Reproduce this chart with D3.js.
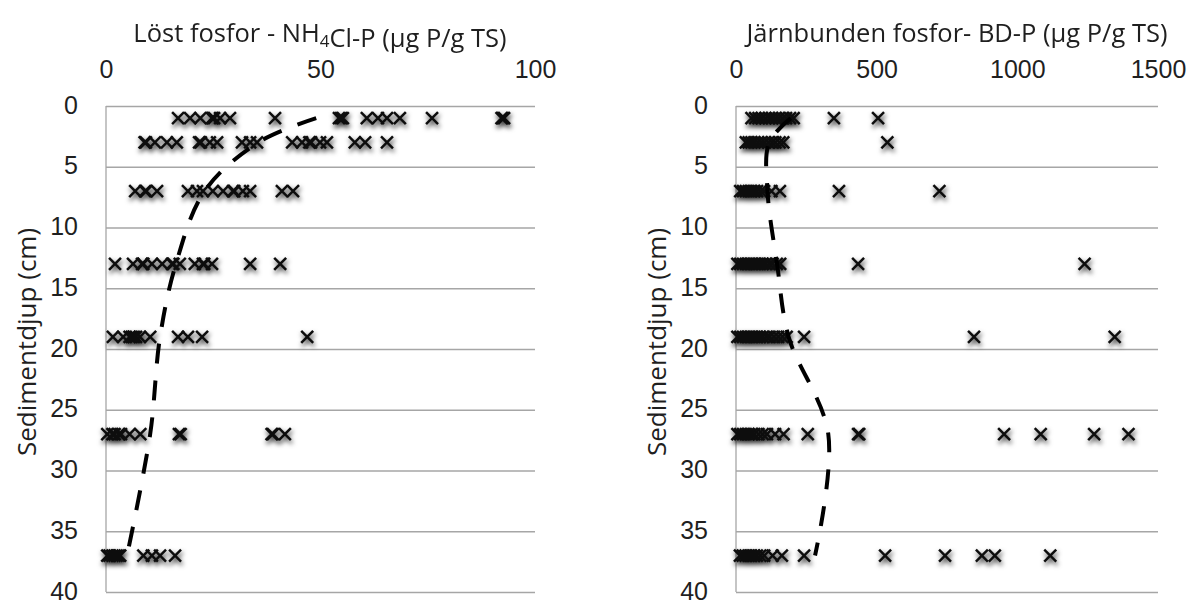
<!DOCTYPE html>
<html>
<head>
<meta charset="utf-8">
<script src="https://cdn.jsdelivr.net/npm/d3@7"></script>
<style>
  body { margin: 0; background: #fff; }
  svg { display: block; font-family: "Open Sans", sans-serif; }
  .grid line { stroke: #a6a6a6; stroke-width: 1.3; }
  .grid .domain { display: none; }
  .tick text { fill: #1f1f1f; font-size: 25px; }
  .xaxis .domain { display: none; }
  .title { fill: #1f1f1f; font-size: 25.5px; }
  .ytitle { fill: #1f1f1f; font-size: 26px; }
</style>
</head>
<body>
<div id="chart"></div>
<script>
  // depth of each sampling row (cm)
  const depths = [1, 3, 7, 13, 19, 27, 37];
  const depthTicks = [0, 5, 10, 15, 20, 25, 30, 35, 40];

  // Löst fosfor NH4Cl-P, one list per depth row
  const nh4clP = [
    [16.8, 19.6, 22, 24.7, 24.9, 25.2, 26.6, 28.9, 39.4, 54.3, 54.8, 55.2, 60.8, 63.4, 65.5, 68.5, 76, 92.2, 92.5, 92.8],
    [9, 9.3, 11.4, 14.2, 16.5, 21.7, 22.1, 24.2, 25.9, 31.7, 33.6, 35.2, 43.4, 45.7, 47.4, 47.8, 49.9, 51.5, 58, 60.4, 65.5],
    [6.8, 9.1, 9.4, 11.9, 19.1, 21.2, 22.6, 24.9, 27.3, 29.6, 29.9, 31.9, 33.6, 41, 43.6],
    [2.1, 6.3, 8.4, 8.7, 10.7, 13.1, 15.4, 15.7, 17.2, 20.7, 22.6, 22.9, 24.7, 33.6, 40.6],
    [1.6, 4, 5.5, 6, 6.5, 7, 7.9, 10.3, 16.8, 19.1, 22.4, 46.9],
    [0.3, 1.5, 2, 3, 3.5, 5.5, 8, 17, 17.4, 38.6, 38.9, 41.7],
    [0.3, 0.8, 1.5, 2, 2.5, 3, 3.3, 8.7, 10.7, 12.6, 16.1]
  ];
  const nh4clTrend = [49, 35.5, 23, 16.3, 12.6, 10.3, 4.9];
  const nh4clTicks = [0, 50, 100];

  // Järnbunden fosfor BD-P, one list per depth row
  const bdP = [
    [55, 68, 80, 92, 105, 118, 128, 140, 152, 165, 178, 192, 205, 348, 505],
    [35, 45, 55, 65, 78, 90, 102, 115, 128, 140, 155, 168, 538],
    [15, 25, 35, 45, 55, 65, 75, 88, 100, 126, 156, 366, 723],
    [5, 15, 25, 35, 45, 55, 65, 75, 85, 95, 105, 118, 130, 145, 157, 434, 1239],
    [5, 15, 25, 35, 45, 55, 65, 75, 85, 95, 108, 120, 135, 150, 165, 180, 242, 846, 1346],
    [5, 15, 25, 35, 45, 55, 65, 80, 95, 110, 139, 169, 255, 434, 438, 953, 1083, 1273, 1395],
    [14, 24, 34, 44, 54, 64, 74, 86, 100, 130, 163, 242, 530, 743, 874, 920, 1117]
  ];
  const bdTrend = [195, 118, 112, 146, 187, 328, 281];
  const bdTicks = [0, 500, 1000, 1500];

  const svg = d3.select("#chart").append("svg")
    .attr("width", 1191)
    .attr("height", 603);

  const defs = svg.append("defs");
  defs.append("filter")
      .attr("id", "shadow")
      .attr("x", "-20%").attr("y", "-20%")
      .attr("width", "140%").attr("height", "140%")
    .append("feDropShadow")
      .attr("dx", 1).attr("dy", 3)
      .attr("stdDeviation", 2.6)
      .attr("flood-color", "#000")
      .attr("flood-opacity", 0.8);

  const plotTop = 106, plotBottom = 592;

  const y = d3.scaleLinear().domain([0, 40]).range([plotTop, plotBottom]);

  const marker = d3.symbol().type(d3.symbolX).size(95);

  function panel(left, right, maxX, ticks, values, trend, title) {
    const x = d3.scaleLinear().domain([0, maxX]).range([left, right]);
    const g = svg.append("g");

    // horizontal gridlines + depth labels
    g.append("g")
      .attr("class", "grid")
      .attr("transform", "translate(" + left + ",0)")
      .call(d3.axisLeft(y).tickValues(depthTicks).tickSize(-(right - left)).tickPadding(28))
      .call((s) => s.selectAll(".tick text").attr("text-anchor", "end").attr("dy", "0.28em"));

    // vertical axis line
    g.append("line")
      .attr("x1", left).attr("x2", left)
      .attr("y1", plotTop).attr("y2", plotBottom)
      .attr("stroke", "#a6a6a6")
      .attr("stroke-width", 1.3);

    // x axis along the top
    g.append("g")
      .attr("class", "xaxis")
      .attr("transform", "translate(0," + plotTop + ")")
      .call(d3.axisTop(x).tickValues(ticks).tickFormat(d3.format("d")).tickSize(0).tickPadding(28));

    // markers
    const pts = [];
    values.forEach((row, i) => row.forEach((v) => pts.push({depth: depths[i], value: v})));

    g.append("g")
      .attr("filter", "url(#shadow)")
      .selectAll("path")
      .data(pts)
      .join("path")
        .attr("d", marker)
        .attr("transform", (d) => "translate(" + x(d.value) + "," + y(d.depth) + ")")
        .attr("fill", "none")
        .attr("stroke", "#111")
        .attr("stroke-width", 2.5);

    // dashed trend
    const line = d3.line()
      .x((d) => x(d))
      .y((d, i) => y(depths[i]))
      .curve(d3.curveCatmullRom);

    g.append("path")
      .datum(trend)
      .attr("d", line)
      .attr("fill", "none")
      .attr("stroke", "#000")
      .attr("stroke-width", 4)
      .attr("stroke-dasharray", "20,17");

    // titles
    const t = g.append("text")
      .attr("class", "title")
      .attr("x", title.cx)
      .attr("y", 42)
      .attr("text-anchor", "middle");
    title.parts.forEach((p) => {
      if (p.sub) {
        t.append("tspan").attr("dy", 5).attr("font-size", "17px").text(p.text);
        t.append("tspan").attr("dy", -5).text("");
      } else {
        t.append("tspan").text(p.text);
      }
    });

    g.append("text")
      .attr("class", "ytitle")
      .attr("transform", "translate(" + (left - 79) + "," + 342 + ") rotate(-90)")
      .attr("text-anchor", "middle")
      .attr("dy", "0.35em")
      .text("Sedimentdjup (cm)");
  }

  panel(106, 535, 100, nh4clTicks, nh4clP, nh4clTrend,
    {cx: 320, parts: [{text: "Löst fosfor - NH"}, {text: "4", sub: true}, {text: "Cl-P (µg P/g TS)"}]});

  panel(736, 1158, 1500, bdTicks, bdP, bdTrend,
    {cx: 957, parts: [{text: "Järnbunden fosfor- BD-P (µg P/g TS)"}]});
</script>
</body>
</html>
